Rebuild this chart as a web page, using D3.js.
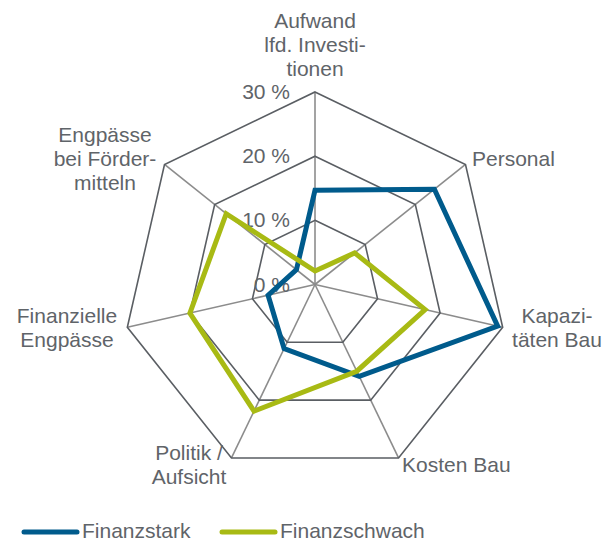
<!DOCTYPE html>
<html>
<head>
<meta charset="utf-8">
<script src="https://cdn.jsdelivr.net/npm/d3@7"></script>
<style>
  body { margin: 0; background: #fff; }
  svg { display: block; font-family: "Liberation Sans", Arial, sans-serif; }
</style>
</head>
<body>
<svg id="chart" width="607" height="543"></svg>
<script>
const axes = [
  ["Aufwand", "lfd. Investi-", "tionen"],
  ["Personal"],
  ["Kapazi-", "täten Bau"],
  ["Kosten Bau"],
  ["Politik /", "Aufsicht"],
  ["Finanzielle", "Engpässe"],
  ["Engpässe", "bei Förder-", "mitteln"]
];
const seriesNames = ["Finanzstark", "Finanzschwach"];
const finanzstark = [14.7, 23.8, 29.2, 15.9, 11.1, 7.5, 3.7];
const finanzschwach = [2.1, 7.9, 17.6, 15.0, 21.9, 20.0, 17.7];
const ticks = [0, 10, 20, 30];

const colors = ["#005b8c", "#a8ba14"];
const textColor = "#5f6469";
const fontSize = 21;

const cx = 315, cy = 284.5, R = 192.5;
const svg = d3.select("#chart");

const r = d3.scaleLinear().domain([0, 30]).range([0, R]);
const angle = d3.scaleLinear().domain([0, axes.length]).range([0, 2 * Math.PI]);

const pt = (i, v) => [cx + Math.sin(angle(i)) * r(v), cy - Math.cos(angle(i)) * r(v)];

// spokes
svg.append("g").selectAll("line")
  .data(axes)
  .join("line")
  .attr("x1", cx).attr("y1", cy)
  .attr("x2", (d, i) => pt(i, 30)[0])
  .attr("y2", (d, i) => pt(i, 30)[1])
  .attr("stroke", "#8c8c8c")
  .attr("stroke-width", 1.6);

// rings
const line = d3.line();
svg.append("g").selectAll("path")
  .data(ticks.filter(t => t > 0))
  .join("path")
  .attr("d", t => line(axes.map((a, i) => pt(i, t))) + "Z")
  .attr("fill", "none")
  .attr("stroke", "#5a5e63")
  .attr("stroke-width", 1.6);

// tick labels
svg.append("g").selectAll("text")
  .data(ticks)
  .join("text")
  .attr("x", cx - 25)
  .attr("y", t => cy - r(t) + 7)
  .attr("text-anchor", "end")
  .attr("font-size", fontSize)
  .attr("fill", textColor)
  .text(t => t + " %");

// series
[finanzstark, finanzschwach].forEach((vals, k) => {
  svg.append("path")
    .attr("d", line(vals.map((v, i) => pt(i, v))) + "Z")
    .attr("fill", "none")
    .attr("stroke", colors[k])
    .attr("stroke-width", 5)
    .attr("stroke-linejoin", "miter");
});

// axis labels
const labelPos = [
  { x: 315, y: 28, anchor: "middle" },
  { x: 472, y: 166, anchor: "start" },
  { x: 557, y: 323, anchor: "middle" },
  { x: 402, y: 472, anchor: "start" },
  { x: 189, y: 460, anchor: "middle" },
  { x: 67, y: 323, anchor: "middle" },
  { x: 105, y: 142, anchor: "middle" }
];
axes.forEach((lines, i) => {
  const p = labelPos[i];
  const t = svg.append("text")
    .attr("x", p.x).attr("y", p.y)
    .attr("text-anchor", p.anchor)
    .attr("font-size", fontSize)
    .attr("fill", textColor);
  lines.forEach((s, j) => {
    t.append("tspan").attr("x", p.x).attr("dy", j === 0 ? 0 : 24).text(s);
  });
});

// legend
const legend = svg.append("g");
const legendX = [22, 220];
seriesNames.forEach((name, k) => {
  legend.append("line")
    .attr("x1", legendX[k] + 2).attr("x2", legendX[k] + 55)
    .attr("y1", 532).attr("y2", 532)
    .attr("stroke", colors[k])
    .attr("stroke-width", 5)
    .attr("stroke-linecap", "round");
  legend.append("text")
    .attr("x", legendX[k] + 60).attr("y", 538)
    .attr("font-size", fontSize)
    .attr("fill", textColor)
    .text(name);
});
</script>
</body>
</html>
